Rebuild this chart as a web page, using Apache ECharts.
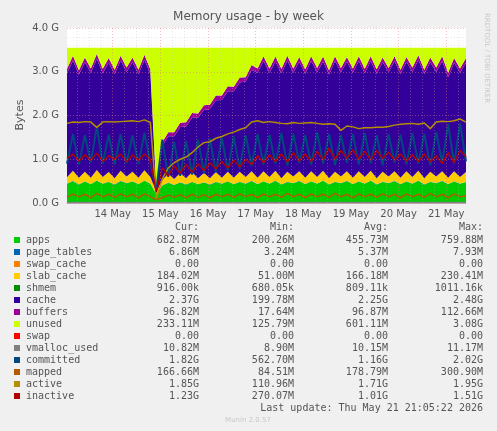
<!DOCTYPE html>
<html><head><meta charset="utf-8">
<script src="https://cdn.jsdelivr.net/npm/echarts@6/dist/echarts.min.js"></script>
<style>html,body{margin:0;background:#f0f0f0}#c{width:497px;height:431px}</style>
</head><body><div id="c"></div>
<script>
// time axis in "day of May", samples every 3 hours
const tStart = 13.04, tStep = 0.125;
const dayTicks = [14,15,16,17,18,19,20,21];
const yTicks = [0,1,2,3,4];
const ramTotal = 3.55;
const apps = [0.44,0.50,0.42,0.49,0.43,0.51,0.44,0.48,0.42,0.50,
  0.45,0.49,0.43,0.51,0.44,0.20,0.40,0.46,0.41,0.47,
  0.42,0.48,0.43,0.47,0.42,0.48,0.44,0.49,0.43,0.48,
  0.44,0.50,0.43,0.49,0.44,0.51,0.42,0.48,0.45,0.50,
  0.43,0.49,0.44,0.51,0.42,0.48,0.45,0.50,0.43,0.49,
  0.44,0.51,0.42,0.48,0.45,0.50,0.43,0.49,0.44,0.51,
  0.42,0.48,0.45,0.50,0.43,0.49,0.44,0.48];
const pageTables = new Array(68).fill(0.006);
const swapCache = new Array(68).fill(0);
const slabCache = [0.14,0.23,0.15,0.22,0.14,0.24,0.15,0.22,0.14,0.23,
  0.15,0.22,0.14,0.23,0.15,0.05,0.12,0.20,0.13,0.21,
  0.14,0.22,0.13,0.21,0.14,0.22,0.13,0.22,0.14,0.23,
  0.15,0.22,0.14,0.23,0.15,0.22,0.14,0.23,0.15,0.22,
  0.14,0.23,0.15,0.22,0.14,0.23,0.15,0.22,0.14,0.23,
  0.15,0.22,0.14,0.23,0.15,0.22,0.14,0.23,0.15,0.22,
  0.14,0.23,0.15,0.22,0.14,0.23,0.15,0.22];
const shmem = new Array(68).fill(0.001);
const cache = [2.38,2.52,2.36,2.50,2.40,2.54,2.37,2.50,2.38,2.52,
  2.39,2.50,2.37,2.53,2.36,0.05,0.78,0.86,0.98,1.05,
  1.18,1.24,1.38,1.44,1.58,1.64,1.78,1.84,1.98,2.04,
  2.18,2.32,2.40,2.52,2.38,2.50,2.40,2.54,2.37,2.50,
  2.38,2.52,2.39,2.50,2.37,2.53,2.38,2.50,2.40,2.52,
  2.37,2.51,2.39,2.50,2.38,2.52,2.37,2.50,2.40,2.53,
  2.38,2.50,2.39,2.52,2.30,2.48,2.38,2.50];
const buffers = [0.10,0.11,0.10,0.11,0.10,0.11,0.10,0.11,0.10,0.11,
  0.10,0.11,0.10,0.11,0.10,0.02,0.08,0.09,0.09,0.10,
  0.10,0.11,0.10,0.11,0.10,0.11,0.10,0.11,0.10,0.11,
  0.10,0.11,0.10,0.11,0.10,0.11,0.10,0.11,0.10,0.11,
  0.10,0.11,0.10,0.11,0.10,0.11,0.10,0.11,0.10,0.11,
  0.10,0.11,0.10,0.11,0.10,0.11,0.10,0.11,0.10,0.11,
  0.10,0.11,0.10,0.11,0.10,0.11,0.10,0.11];
const committed = [0.90,1.58,0.88,1.55,0.92,1.75,0.90,1.56,0.88,1.58,
  0.91,1.55,0.89,1.60,0.92,0.30,1.45,0.60,1.40,0.62,
  1.42,0.65,1.45,0.68,1.48,0.70,1.50,0.74,1.52,0.78,
  1.55,0.85,1.58,0.88,1.56,0.90,1.60,0.86,1.58,0.92,
  1.55,0.88,1.62,0.90,1.58,0.87,1.56,0.92,1.58,0.88,
  1.60,0.90,1.55,0.86,1.58,0.92,1.56,0.88,1.60,0.90,
  1.58,0.86,1.62,0.92,1.80,0.90,1.82,0.95];
const mapped = [0.13,0.21,0.14,0.20,0.12,0.22,0.14,0.20,0.13,0.21,
  0.14,0.20,0.12,0.21,0.14,0.08,0.12,0.18,0.13,0.19,
  0.12,0.20,0.13,0.19,0.12,0.20,0.14,0.20,0.13,0.21,
  0.14,0.20,0.12,0.21,0.14,0.20,0.13,0.22,0.14,0.20,
  0.12,0.21,0.14,0.20,0.13,0.22,0.14,0.20,0.12,0.21,
  0.14,0.20,0.13,0.21,0.14,0.20,0.12,0.21,0.14,0.20,
  0.13,0.22,0.14,0.20,0.12,0.21,0.14,0.17];
const active = [1.82,1.85,1.84,1.86,1.85,1.73,1.85,1.86,1.85,1.86,
  1.87,1.88,1.86,1.90,1.84,0.10,0.55,0.80,0.92,1.00,
  1.05,1.15,1.28,1.38,1.40,1.48,1.52,1.58,1.62,1.68,
  1.72,1.85,1.88,1.84,1.86,1.84,1.82,1.81,1.84,1.82,
  1.83,1.84,1.82,1.80,1.81,1.80,1.66,1.76,1.74,1.70,
  1.72,1.72,1.73,1.73,1.75,1.78,1.80,1.81,1.82,1.80,
  1.83,1.70,1.85,1.87,1.86,1.88,1.92,1.85];
const inactive = [1.02,1.12,0.96,1.10,0.98,1.14,0.95,1.08,1.00,1.12,
  0.94,1.10,0.98,1.12,1.00,0.25,0.80,0.62,0.85,0.68,
  0.88,0.70,0.90,0.74,0.92,0.78,0.95,0.80,0.98,0.82,
  1.00,0.88,1.08,0.92,1.10,0.95,1.12,0.94,1.15,0.96,
  1.12,0.95,1.18,0.98,1.25,1.00,1.20,1.02,1.22,1.00,
  1.18,0.98,1.20,1.02,1.16,0.98,1.12,0.96,1.10,0.95,
  1.12,0.94,1.08,0.90,1.15,0.92,1.20,1.05];
const vmalloc = new Array(68).fill(0.01);
const unused = apps.map((a,i)=>Math.max(0, ramTotal-a-pageTables[i]-swapCache[i]-slabCache[i]-shmem[i]-cache[i]-buffers[i]));
const swap = new Array(68).fill(0);

const legendNames = ['apps','page_tables','swap_cache','slab_cache','shmem','cache','buffers','unused','swap','vmalloc_used','committed','mapped','active','inactive'];
const legendColors = ['#00cc00','#0066b3','#ff8000','#ffcc00','#008f00','#330099','#990099','#ccff00','#ff0000','#808080','#00487d','#b35a00','#b38f00','#b30000'];
const statCur = ['682.87M','6.86M','0.00','184.02M','916.00k','2.37G','96.82M','233.11M','0.00','10.82M','1.82G','166.66M','1.85G','1.23G'];
const statMin = ['200.26M','3.24M','0.00','51.00M','680.05k','199.78M','17.64M','125.79M','0.00','8.90M','562.70M','84.51M','110.96M','270.07M'];
const statAvg = ['455.73M','5.37M','0.00','166.18M','809.11k','2.25G','96.87M','601.11M','0.00','10.15M','1.16G','178.79M','1.71G','1.01G'];
const statMax = ['759.88M','7.93M','0.00','230.41M','1011.16k','2.48G','112.66M','3.08G','0.00','11.17M','2.02G','300.90M','1.95G','1.51G'];

const cats = apps.map((_,i)=>String(i));
const tEnd = tStart + (apps.length-1)*tStep;
const stackData = [apps,pageTables,swapCache,slabCache,shmem,cache,buffers,unused,swap];
const lineData = [vmalloc,committed,mapped,active,inactive];
const series = [];
stackData.forEach((d,k)=>series.push({type:'line',name:legendNames[k],stack:'m',data:d,symbol:'none',
  lineStyle:{width:0},areaStyle:{color:legendColors[k],opacity:1},itemStyle:{color:legendColors[k]},z:2}));
lineData.forEach((d,k)=>series.push({type:'line',name:legendNames[9+k],data:d,symbol:'none',
  lineStyle:{width:k==1?2:1.5,color:legendColors[9+k]},z:3}));
const minorV=[]; for(let d=13.25; d<21.4; d+=0.25){ if(Math.abs(d-Math.round(d))>0.01) minorV.push({xAxis:d}); }
series.push({type:'line',xAxisIndex:1,data:[],z:4,silent:true,
  markLine:{symbol:'none',silent:true,label:{show:false},animation:false,
    data:[...minorV.map(o=>({...o,lineStyle:{color:'rgba(190,190,190,0.7)',type:[1,2],width:0.5}})),
      ...dayTicks.map(d=>({xAxis:d,lineStyle:{color:'rgba(230,120,120,0.8)',type:[1,2],width:0.6}})),
      ...yTicks.map(v=>({yAxis:v,lineStyle:{color:'rgba(230,120,120,0.8)',type:[1,2],width:0.6}}))]}});

const g=[]; const mono='DejaVu Sans Mono'; const tc='#555';
const row0=240, dy=12;
[['Cur:',199],['Min:',294],['Avg:',388],['Max:',483]].forEach(h=>g.push({type:'text',x:h[1],y:227,style:{text:h[0],font:'10px '+mono,fill:tc,textAlign:'right',textVerticalAlign:'middle'}}));
legendNames.forEach((n,i)=>{
  const y=row0+i*dy;
  g.push({type:'rect',shape:{x:14,y:y-3,width:6,height:6},style:{fill:legendColors[i]}});
  g.push({type:'text',x:26,y:y,style:{text:n,font:'10px '+mono,fill:tc,textVerticalAlign:'middle'}});
  [[statCur,199],[statMin,294],[statAvg,388],[statMax,483]].forEach(c=>g.push({type:'text',x:c[1],y:y,style:{text:c[0][i],font:'10px '+mono,fill:tc,textAlign:'right',textVerticalAlign:'middle'}}));
});
g.push({type:'text',x:483,y:408,style:{text:'Last update: Thu May 21 21:05:22 2026',font:'10px '+mono,fill:tc,textAlign:'right',textVerticalAlign:'middle'}});
g.push({type:'text',x:248,y:420,style:{text:'Munin 2.0.57',font:'7px DejaVu Sans',fill:'#c8c8c8',textAlign:'center',textVerticalAlign:'middle'}});
g.push({type:'text',x:20,y:115,rotation:Math.PI/2,style:{text:'Bytes',font:'11px DejaVu Sans',fill:tc,textAlign:'center',textVerticalAlign:'middle'}});
g.push({type:'text',x:487,y:58,rotation:-Math.PI/2,style:{text:'RRDTOOL / TOBI OETIKER',font:'7px DejaVu Sans',fill:'#c8c8c8',textAlign:'center',textVerticalAlign:'middle'}});

const chart=echarts.init(document.getElementById('c'));
chart.setOption({
  animation:false, backgroundColor:'#f0f0f0',
  title:{text:'Memory usage - by week',left:'center',top:6,textStyle:{fontFamily:'DejaVu Sans',fontSize:12,fontWeight:'normal',color:'#555'}},
  grid:{left:67,right:31,top:28,bottom:228,backgroundColor:'#ffffff',show:true,borderWidth:0},
  xAxis:[{type:'category',data:cats,boundaryGap:false,show:false},
    {type:'value',min:tStart,max:tEnd,position:'bottom',
    axisLine:{lineStyle:{color:'#bbb'}},axisTick:{show:false},splitLine:{show:false},
    axisLabel:{customValues:dayTicks,formatter:v=>Math.round(v)+' May',color:'#555',fontFamily:'DejaVu Sans',fontSize:10,margin:6}}],
  yAxis:{type:'value',min:0,max:4,interval:1,
    axisLine:{show:false},axisTick:{show:false},splitLine:{show:false},
    minorTick:{show:false,splitNumber:5},
    minorSplitLine:{show:true,lineStyle:{color:'rgba(190,190,190,0.7)',type:[1,2],width:0.5}},
    axisLabel:{formatter:v=>v.toFixed(1)+' G',color:'#555',fontFamily:'DejaVu Sans',fontSize:10,margin:8}},
  series:series,
  graphic:g
});
</script></body></html>
